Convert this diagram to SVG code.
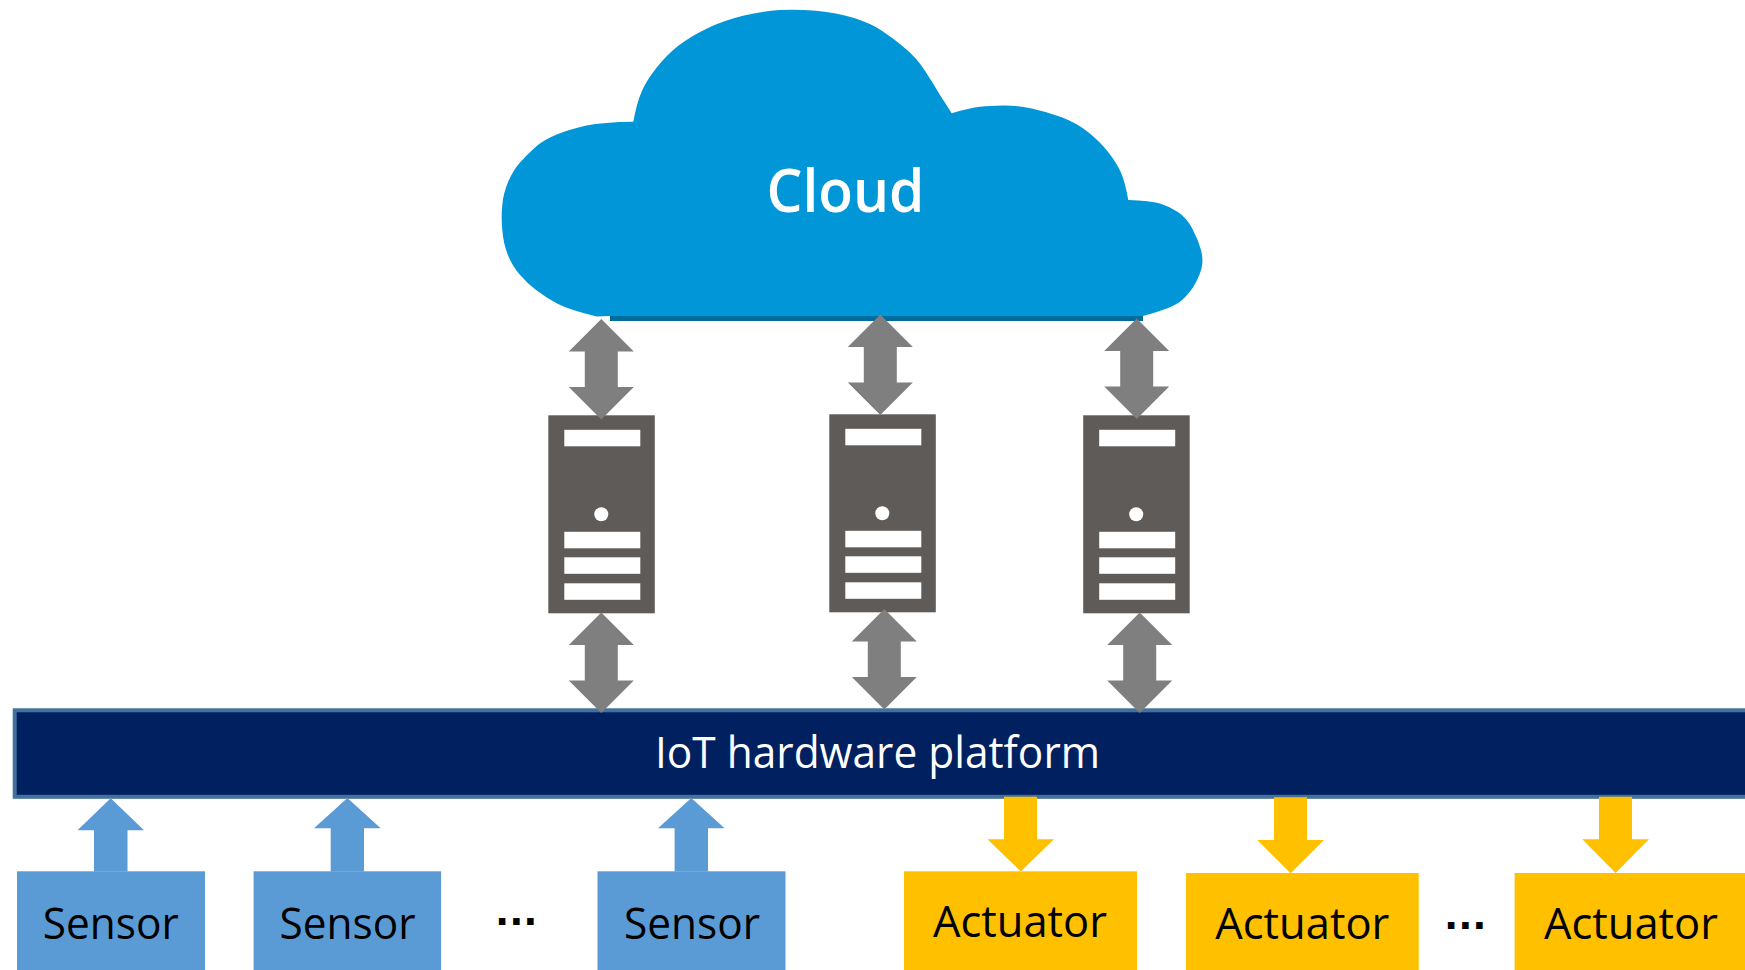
<svg xmlns="http://www.w3.org/2000/svg" width="1745" height="970" viewBox="0 0 1745 970">
<style>
text{font-family:"Open Sans","Noto Sans","Liberation Sans",sans-serif;text-anchor:middle}
.sensor{fill:#5b9bd5}
.act{fill:#ffc000}
.grey{fill:#7f7f7f}
.lbl{font-size:43px;fill:#000}
.dots{font-family:"Liberation Sans",sans-serif;font-size:46px;font-weight:700;fill:#000;letter-spacing:1.4px}
.srv{fill:#5f5b58}
.w{fill:#fff}
</style>
<defs>
<g id="server">
<rect class="srv" x="0" y="0" width="106.500" height="198"/>
<rect class="w" x="16" y="14.500" width="76" height="16.500"/>
<circle class="w" cx="53" cy="99" r="7"/>
<rect class="w" x="16" y="116.500" width="76" height="16.500"/>
<rect class="w" x="16" y="142" width="76" height="16.500"/>
<rect class="w" x="16" y="168" width="76" height="16.500"/>
</g>
<path id="dbl" class="grey" d="M0 0L32.500 32.500H16.500V68H32.500L0 100.500L-32.500 68H-16.500V32.500H-32.500Z"/>
</defs>
<g id="cloud">
<rect x="610" y="310" width="533" height="11" fill="#006c9c"/>
<path fill="#0096d7" d="M633.300 121.700Q636.700 103 641.700 91.500Q646.700 80 656.700 67.500Q666.700 55 678.300 45.800Q690 36.700 706.500 28.700Q723 20.700 743 15.800Q763 11 779.500 10Q796 9 816.300 10.800Q836.700 12.700 853.300 17.800Q870 23 881.500 30.500Q893 38 904.800 48Q916.700 58 924.800 70.500Q933 83 940 95L951.700 113.300Q970 108 980 106.800Q990 105.500 1003.300 105.400Q1016.700 105.300 1031.700 108.500Q1046.700 111.700 1061.700 117.300Q1076.700 123 1088.300 132.300Q1100 141.700 1108.300 152.300Q1116.700 163 1120.800 172.300Q1125 181.700 1128.300 200Q1150 200.500 1160 203.600Q1170 206.700 1178.300 212.300Q1186.700 218 1192.500 229Q1198.300 240 1201 250Q1203.500 260 1201.700 267.500Q1200 275 1195 284Q1190 293 1181.500 300.500Q1173 308 1143 316H610L596.700 316.500Q570 310 558 304Q546.700 298 536.700 290.500Q526.700 283 519.200 274Q511.700 265 507.500 254Q503.300 243 502.300 230Q501 216.700 502.300 205Q503.300 193 508.300 181.500Q513.300 170 520 162.500Q526.700 155 535 147.500Q543.300 140 556.700 134.600Q570 129.300 586.500 125.600Q603 122 633.300 121.700Z"/>
<text x="845.500" y="212" font-size="60" font-weight="600" fill="#fff" textLength="158" lengthAdjust="spacingAndGlyphs">Cloud</text>
</g>
<g id="server1"><use href="#server" x="548.300" y="415.300"/></g>
<g id="server2"><use href="#server" x="829.300" y="414.300"/></g>
<g id="server3"><use href="#server" x="1083.200" y="415.300"/></g>
<g id="platform">
<rect x="14.700" y="710.300" width="1740" height="86.500" fill="#002060" stroke="#41719c" stroke-width="4"/>
<text x="877.500" y="767.500" font-size="43" fill="#fff" textLength="445" lengthAdjust="spacingAndGlyphs">IoT hardware platform</text>
</g>
<g id="connectors">
<use href="#dbl" x="601.300" y="319"/>
<use href="#dbl" x="880.300" y="314.500"/>
<use href="#dbl" x="1136.700" y="318.500"/>
<use href="#dbl" x="601.300" y="612.500"/>
<use href="#dbl" x="884.300" y="609"/>
<use href="#dbl" x="1139.700" y="612.500"/>
<path class="sensor" d="M110.700 798.300L144 830.300H127.500V871.500H94V830.300H77.500Z"/>
<path class="sensor" d="M347.400 798L380.700 828.300H364V871.500H330.700V828.300H314Z"/>
<path class="sensor" d="M691.300 798L724.600 828.300H708V871.500H674.600V828.300H658Z"/>
<path class="act" d="M1004 796.700H1037V839.300H1054L1020.800 871.500L987.500 839.300H1004Z"/>
<path class="act" d="M1274 797.300H1307V840H1324L1290.600 873.300L1257.300 840H1274Z"/>
<path class="act" d="M1599 796.700H1632V839.300H1649L1615.600 873L1582.300 839.300H1599Z"/>
</g>
<g id="sensor1"><rect class="sensor" x="17" y="871.300" width="188" height="99"/><text class="lbl" x="110.800" y="938.500" textLength="136" lengthAdjust="spacingAndGlyphs">Sensor</text></g>
<g id="sensor2"><rect class="sensor" x="253.600" y="871.300" width="187.500" height="99"/><text class="lbl" x="347.500" y="938.500" textLength="136" lengthAdjust="spacingAndGlyphs">Sensor</text></g>
<text class="dots" x="517" y="925">...</text>
<g id="sensor3"><rect class="sensor" x="597.500" y="871.300" width="188" height="99"/><text class="lbl" x="692" y="938.500" textLength="136" lengthAdjust="spacingAndGlyphs">Sensor</text></g>
<g id="actuator1"><rect class="act" x="904" y="871.300" width="233" height="99"/><text class="lbl" x="1020" y="936.500" textLength="174" lengthAdjust="spacingAndGlyphs">Actuator</text></g>
<g id="actuator2"><rect class="act" x="1186" y="873" width="232.700" height="97"/><text class="lbl" x="1302.300" y="938.500" textLength="174" lengthAdjust="spacingAndGlyphs">Actuator</text></g>
<text class="dots" x="1466" y="929">...</text>
<g id="actuator3"><rect class="act" x="1514.600" y="873" width="232" height="97"/><text class="lbl" x="1631" y="938.500" textLength="174" lengthAdjust="spacingAndGlyphs">Actuator</text></g>
</svg>
